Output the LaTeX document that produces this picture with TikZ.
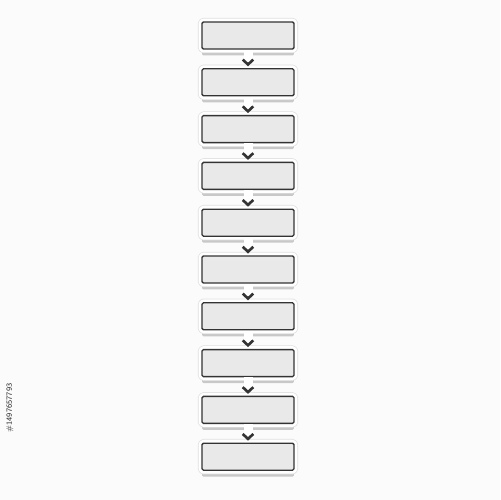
\documentclass[tikz,border=0pt]{standalone}
\usetikzlibrary{arrows.meta,shadows}

\tikzset{
  stepbox/.style={draw=black!80, fill=gray!17, line width=0.75pt,
    rounded corners=0.8pt, minimum width=1.84cm, minimum height=0.54cm,
    inner sep=0pt, outer sep=0pt,
    drop shadow={shadow xshift=0cm, shadow yshift=-0.13cm, opacity=.2, fill=black},
    preaction={draw=gray!25, line width=0.17cm, line join=round},
    preaction={draw=white, line width=0.14cm, line join=round}},
  link/.style={draw=white, line width=0.18cm, shorten <=0.5pt, shorten >=0.05cm,
    -{Straight Barb[length=2.8pt, width=6pt, line width=1.5pt, color=black!80]}},
  stockid/.style={font=\sffamily\fontsize{4.5}{5}\selectfont, text=black!85,
    rotate=90, inner sep=0pt}
}

\begin{document}
\begin{tikzpicture}[x=0.02cm, y=-0.02cm]
\fill[gray!3] (0,0) rectangle (500,500);
\useasboundingbox (0,0) rectangle (500,500);

% the ten steps
\foreach \i in {1,...,10}
  \node[stepbox] (box\i) at (248,{35.5+46.8*(\i-1)}) {};

% arrows between them
\foreach \i [evaluate=\i as \j using int(\i+1)] in {1,...,9}
  \draw[link] (box\i.south) -- (box\j.north);

\node[stockid] (id) at (10,408) {\#1497657793};
\end{tikzpicture}
\end{document}
